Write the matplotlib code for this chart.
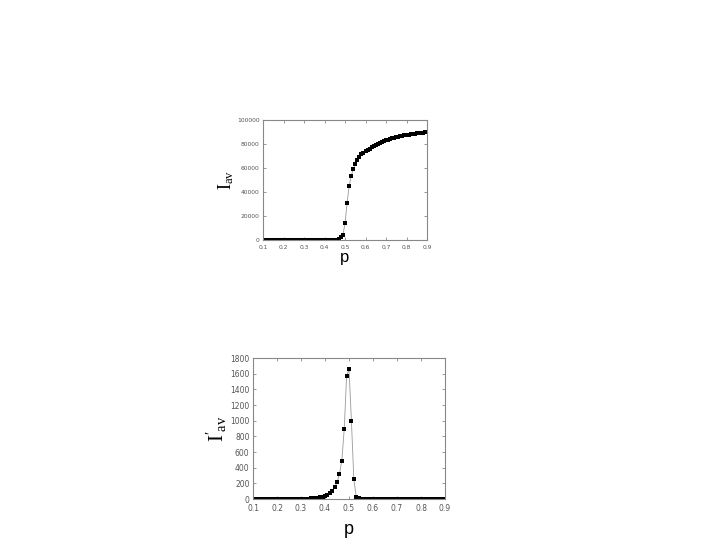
import numpy as np
import matplotlib.pyplot as plt

plt.rcParams['mathtext.fontset'] = 'custom'
plt.rcParams['mathtext.rm'] = 'Liberation Serif'
plt.rcParams['mathtext.it'] = 'Liberation Serif:italic'

# p values, 0.10 ... 0.90 step 0.01
p = np.round(np.arange(10, 91) / 100.0, 2)

# average I (top panel)
i_av = [0, 0, 0, 0, 0, 0, 0, 0, 0, 0,
        0, 0, 0, 0, 0, 0, 0, 0, 0, 0,
        0, 0, 0, 0, 0, 0, 0, 0, 0, 0,
        0, 0, 0, 0, 0, 100, 300, 700, 2200, 4300,
        13900, 30800, 44700, 53300, 58900, 63300, 66700, 69300, 71400, 72800,
        73800, 75000, 76200, 77300, 78300, 79300, 80200, 81000, 81700, 82400,
        83000, 83600, 84200, 84700, 85200, 85600, 86000, 86400, 86800, 87100,
        87500, 87800, 88100, 88400, 88600, 88900, 89100, 89300, 89500, 89700,
        89900]

# I' average (bottom panel)
di_av = [2, 2, 2, 2, 2, 2, 2, 2, 2, 2,
         3, 3, 3, 3, 3, 3, 3, 4, 4, 4,
         5, 5, 6, 6, 7, 9, 12, 16, 22, 30,
         40, 55, 75, 100, 150, 213, 315, 489, 894, 1575,
         1656, 996, 252, 30, 10, 6, 5, 4, 4, 3,
         3, 3, 3, 3, 3, 2, 2, 2, 2, 2,
         2, 2, 2, 2, 2, 2, 2, 2, 2, 2,
         2, 2, 1, 1, 1, 1, 1, 1, 1, 1,
         1]

xticks = [0.1, 0.2, 0.3, 0.4, 0.5, 0.6, 0.7, 0.8, 0.9]
top_yticks = [0, 20000, 40000, 60000, 80000, 100000]
bot_yticks = [0, 200, 400, 600, 800, 1000, 1200, 1400, 1600, 1800]

fig = plt.figure(figsize=(7.2, 5.4), dpi=100)


def style(ax, fs):
    for s in ax.spines.values():
        s.set_color('#888888')
        s.set_linewidth(0.8)
    ax.tick_params(direction='in', top=True, right=True, length=2.5,
                   width=0.6, colors='#888888', labelcolor='#555555',
                   labelsize=fs, pad=2.5)
    ax.tick_params(axis='x', pad=3.5)


ax1 = fig.add_axes([0.3653, 0.5556, 0.2278, 0.2222])
ax1.plot(p, i_av, color='#999999', lw=0.6)
ax1.plot(p, i_av, 's', color='black', ms=2.2, mew=0)
ax1.set_xlim(0.1, 0.9)
ax1.set_ylim(0, 100000)
ax1.set_xticks(xticks)
ax1.set_yticks(top_yticks)
style(ax1, 4.3)
ax1.set_xlabel('p', fontsize=12, family='Liberation Sans', labelpad=0)
ax1.set_ylabel(r'$\mathrm{I}_{\mathrm{av}}$', fontsize=13, labelpad=1)

ax2 = fig.add_axes([0.3514, 0.0759, 0.2667, 0.2611])
ax2.plot(p, di_av, color='#999999', lw=0.6)
ax2.plot(p, di_av, 's', color='black', ms=3, mew=0)
ax2.set_xlim(0.1, 0.9)
ax2.set_ylim(0, 1800)
ax2.set_xticks(xticks)
ax2.set_yticks(bot_yticks)
style(ax2, 5.5)
ax2.set_xlabel('p', fontsize=13, family='Liberation Sans', labelpad=6)
ax2.set_ylabel(r"$\mathrm{I'}_{\mathrm{av}}$", fontsize=15, labelpad=1)

fig.savefig('out.png', dpi=100)
